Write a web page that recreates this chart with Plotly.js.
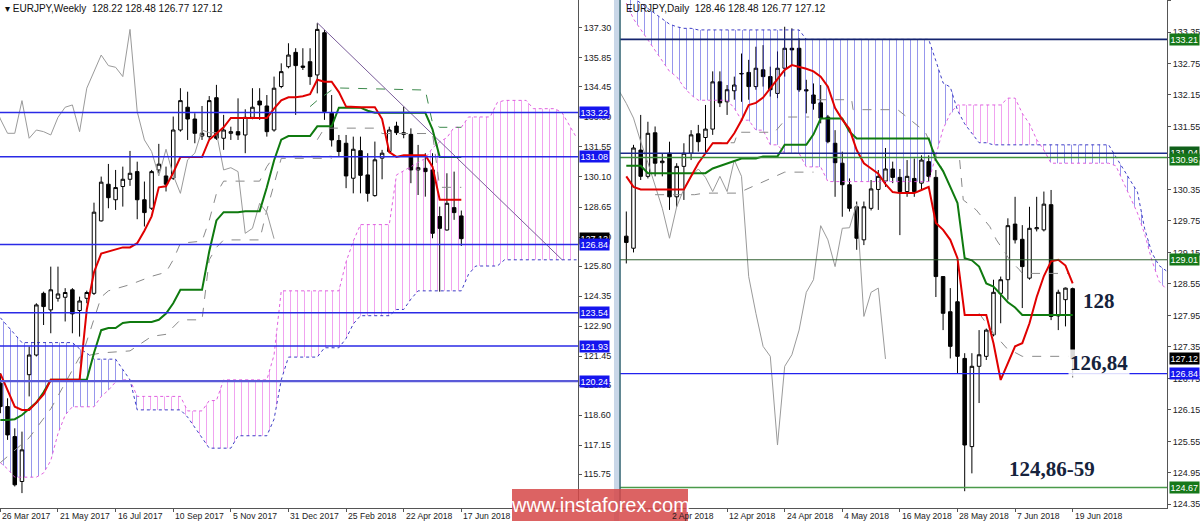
<!DOCTYPE html>
<html><head><meta charset="utf-8">
<script src="https://cdn.plot.ly/plotly-3.0.1.min.js"></script>
<style>html,body{margin:0;padding:0;background:#fff}#chart{width:1200px;height:521px}</style>
</head><body><div id="chart"></div>
<script>
// ---------- WEEKLY (EURJPY, W1) : index 0 = 26 Mar 2017 ... 64 = 17 Jun 2018 ----------
const wOpen  = [120.14,119.01,117.56,115.39,120.55,121.50,124.48,123.68,124.24,124.29,124.65,123.65,124.24,124.48,127.98,129.75,129.00,129.64,129.99,130.36,129.00,128.59,130.44,130.15,130.04,132.37,133.47,132.90,132.08,132.05,133.93,131.97,132.21,132.29,132.13,132.98,133.77,133.53,132.37,134.47,135.43,136.12,135.46,135.67,135.03,137.07,133.18,131.86,131.73,130.04,131.37,130.20,129.20,131.01,131.33,132.56,132.16,132.16,130.44,130.52,130.44,128.19,127.54,128.62,128.22];
const wHigh  = [120.62,119.41,117.96,117.80,121.91,124.00,124.56,125.77,125.77,124.73,124.73,124.32,124.61,128.86,130.12,130.73,130.44,130.60,131.36,130.84,129.88,130.44,131.70,130.60,133.02,134.39,134.22,133.18,133.53,134.01,134.55,133.10,132.53,133.90,133.37,134.39,134.39,134.06,134.95,135.59,136.56,136.32,136.32,136.32,137.53,137.20,134.06,132.13,132.13,132.05,132.05,131.25,131.81,131.41,132.53,132.77,133.50,132.45,131.65,131.25,131.25,128.67,130.28,130.36,128.48];
const wLow   = [118.69,117.40,115.15,114.83,119.50,121.43,122.95,122.55,124.08,123.12,122.55,122.39,124.00,124.40,127.95,128.59,128.51,128.67,129.67,128.06,127.71,128.51,130.28,129.40,129.96,132.29,131.89,131.73,131.89,131.92,131.89,131.41,131.89,131.89,131.25,132.89,132.86,132.05,132.29,134.39,135.35,133.10,135.27,134.55,134.14,132.86,131.57,131.09,129.56,129.31,129.31,128.91,129.15,129.99,131.25,132.13,131.97,129.80,129.23,129.15,127.14,124.56,127.51,128.03,126.77];
const wClose = [119.01,117.64,115.23,116.92,121.50,123.92,123.84,124.65,124.45,124.52,123.49,124.11,124.52,128.40,129.85,129.10,129.59,129.99,130.28,129.00,128.38,130.36,130.72,129.75,132.37,133.79,132.90,132.21,132.21,133.79,131.97,132.37,132.29,132.13,132.98,133.47,133.58,132.29,134.39,135.19,135.99,135.48,135.40,134.95,137.23,133.26,131.89,131.33,130.15,131.44,130.18,129.31,130.93,131.25,132.37,132.24,132.24,130.44,130.55,130.36,127.38,127.62,128.83,128.38,127.12];
const wTenkan = [120.6,119.8,119.0,118.85,118.85,119.2,119.6,120.3,120.3,120.3,120.3,120.3,123.7,125.5,126.4,126.5,126.6,126.7,126.7,126.9,127.5,128.2,129.6,129.65,130.3,131.06,131.06,131.06,131.06,131.9,132.2,132.5,132.95,132.95,132.95,132.95,132.95,132.95,133.4,133.8,133.95,133.95,134.0,134.1,134.8,134.7,134.7,134.2,133.5,133.47,133.47,133.47,133.47,132.9,131.3,131.07,131.15,131.15,131.15,131.15,130.6,129.0,129.0,129.0,129.0];
const wKijun  = [118.36,118.36,118.4,118.6,118.9,119.2,119.7,120.3,120.3,120.3,120.3,120.3,120.3,121.6,122.7,122.8,122.8,123.05,123.1,123.1,123.1,123.1,123.2,123.5,124.0,124.65,124.65,124.65,124.65,126.5,128.0,128.4,128.4,128.4,128.45,128.45,128.45,129.6,130.9,131.9,132.08,132.08,132.08,132.08,132.55,132.55,132.55,133.45,133.45,133.45,133.45,133.3,133.2,133.2,133.2,133.2,133.2,133.2,133.2,133.2,132.4,131.07,131.07,131.07,131.07];
// Senkou spans, index 0..80 (cloud projected ahead)
const wSpanA = [116.3,116.0,115.6,115.6,115.6,115.6,115.8,116.4,117.7,118.6,119.0,119.0,119.0,119.0,119.5,119.8,120.2,120.3,120.3,119.5,119.5,119.5,119.5,119.5,119.5,119.5,118.8,118.8,118.8,119.3,119.3,120.3,120.3,120.3,120.3,120.3,120.3,120.3,121.5,124.6,124.6,124.6,124.6,124.6,124.6,124.6,124.6,124.6,126.0,127.0,127.8,127.8,127.8,127.8,127.8,130.2,130.4,130.6,130.8,131.0,131.5,131.8,132.0,132.5,132.5,133.0,133.0,133.0,133.0,133.7,133.8,133.8,133.8,133.8,133.4,133.4,133.4,133.4,133.2,132.6,132.0];
const wSpanB = [123.3,122.9,122.5,122.1,122.1,122.1,122.1,122.1,122.1,122.1,122.1,121.8,121.6,121.3,121.3,121.3,121.3,120.8,120.3,118.85,118.85,118.85,118.85,118.85,118.85,118.85,118.5,118.0,117.5,117.0,117.0,117.0,117.0,117.6,117.6,117.6,117.6,117.6,118.4,120.3,121.4,121.4,121.4,121.4,121.4,121.85,121.85,121.85,122.3,123.0,123.4,123.4,123.4,123.4,123.4,123.7,123.7,124.2,124.6,124.6,124.6,124.6,124.6,124.6,124.6,125.4,125.8,125.8,125.8,125.8,126.1,126.1,126.1,126.1,126.1,126.1,126.1,126.1,126.1,126.1,126.1];
const wDash1 = {x:[11,14,15,18,21,23,24,25,28,29,30,31,36,37,38,46], y:[121.1,124.3,124.6,124.9,125.3,125.5,126.1,126.9,127.0,128.0,129.3,129.9,129.9,130.6,131.1,131.1]};
const wDash2 = {x:[43,44,46,47,59,60,61,64], y:[133.5,133.8,134.3,134.4,134.3,132.7,132.5,132.5]};
const wDash3 = {x:[0,4,7,11,14,18,21,23,25,28,29,30,31,36,37,39,46], y:[116.3,117.5,118.9,121.4,121.6,121.7,122.4,122.5,123.2,123.2,126.1,126.7,127.06,127.06,128.5,131.0,131.0]};
const wDash4 = {x:[44,45,52,53,60,61,64], y:[131.9,132.46,132.46,132.2,132.2,129.6,129.6]};
const wTrend = {x:[44,78], y:[137.55,126.1]};
const wLevels = [133.22,131.08,126.84,123.54,121.93,120.24];
const wYTicks = [137.30,135.85,134.45,133.00,131.55,130.10,128.65,127.20,125.80,124.35,122.90,121.45,120.05,118.60,117.15,115.75];
const wTickIdx = [0,8,16,24,32,40,48,56,64];
const wTickText = ['26 Mar 2017','21 May 2017','16 Jul 2017','10 Sep 2017','5 Nov 2017','31 Dec 2017','25 Feb 2018','22 Apr 2018','17 Jun 2018'];

// ---------- DAILY (EURJPY, D1) : index 0 = 23 Mar 2018 ... 62 = 19 Jun 2018 ----------
const dOpen  = [129.46,129.23,131.10,130.60,131.43,130.86,131.04,130.21,130.79,131.04,131.41,131.34,131.50,132.40,132.02,132.23,132.55,132.58,132.31,132.63,132.50,132.18,132.66,133.04,133.04,132.25,132.15,132.00,131.73,131.23,130.85,130.44,130.02,129.39,129.99,130.35,130.51,130.74,130.58,130.31,130.56,130.47,130.88,130.58,128.69,128.02,128.21,127.13,125.45,126.98,127.17,127.58,128.37,128.63,129.69,129.40,128.66,129.60,129.58,130.06,127.94,128.25,128.46];
const dHigh  = [129.93,131.20,131.77,131.64,131.55,131.04,131.26,130.85,131.23,131.48,131.58,131.96,132.60,132.60,132.34,132.50,132.94,132.82,133.07,133.10,132.69,132.98,133.45,133.42,133.23,132.44,132.37,132.34,131.77,131.48,131.07,130.56,130.12,130.12,130.53,130.72,131.14,130.88,130.74,130.91,130.94,131.00,131.00,130.72,128.69,128.47,129.04,127.23,127.23,127.67,127.70,128.63,128.69,129.80,130.21,129.67,130.02,130.21,130.31,130.34,128.44,128.48,128.48];
const dLow   = [128.94,129.15,130.53,130.56,130.60,130.60,129.96,130.02,130.15,130.91,131.07,131.04,131.39,131.92,131.77,132.06,132.02,132.06,132.25,132.31,132.12,132.09,132.50,132.72,132.21,131.80,131.87,131.61,131.23,130.21,129.83,129.93,129.20,129.29,129.95,129.96,130.40,130.47,129.48,130.21,130.21,130.34,130.50,128.30,127.67,127.13,126.85,124.60,124.94,126.28,127.10,127.55,127.80,128.25,129.32,128.09,128.63,129.55,129.55,127.86,127.67,127.74,126.77];
const dClose = [129.34,131.14,130.60,131.42,130.85,130.89,130.21,130.79,131.04,131.39,131.26,131.50,132.40,132.00,132.25,132.34,132.56,132.31,132.66,132.50,132.25,132.66,133.04,133.01,132.25,132.23,131.99,131.71,131.26,130.86,130.44,129.99,129.42,130.02,130.36,130.60,130.74,130.58,130.31,130.60,130.31,130.91,130.60,128.69,127.99,127.36,127.17,125.48,126.98,127.20,127.67,128.39,128.63,129.66,129.39,128.88,129.61,129.62,130.07,127.93,128.39,128.47,127.12];
const dTenkan = [130.6,130.4,130.35,130.35,130.35,130.35,130.35,130.35,130.35,130.6,130.85,131.04,131.23,131.23,131.23,131.42,131.67,131.96,132.0,132.1,132.28,132.44,132.63,132.72,132.69,132.65,132.6,132.5,132.31,131.9,131.68,131.5,131.1,130.85,130.75,130.65,130.45,130.3,130.28,130.28,130.28,130.34,130.40,129.71,129.58,129.39,129.04,127.96,127.96,127.96,127.96,127.42,126.72,127.04,127.36,127.42,127.8,128.3,128.7,128.98,129.01,128.9,128.56];
const dKijun  = [130.8,130.8,130.8,130.66,130.66,130.66,130.66,130.66,130.66,130.66,130.66,130.66,130.75,130.8,130.85,130.9,130.94,130.94,130.94,130.98,130.98,130.98,131.2,131.2,131.2,131.2,131.4,131.7,131.7,131.7,131.7,131.45,131.32,131.32,131.32,131.32,131.32,131.32,131.32,131.32,131.32,131.32,131.32,130.91,130.7,130.4,130.09,129.04,129.0,128.88,128.56,128.5,128.34,128.2,128.1,127.96,127.96,127.96,127.96,127.96,127.96,127.96,127.96];
const dSpanA = [133.9,133.6,133.4,133.2,133.0,132.8,132.6,132.5,132.3,132.15,132.05,132.05,132.05,132.05,132.05,131.9,131.67,131.67,131.48,131.48,131.2,131.2,131.04,131.04,131.04,130.78,130.78,130.78,130.5,130.5,130.5,130.5,130.5,130.5,130.5,130.5,130.5,130.5,130.5,130.5,130.5,130.5,130.5,131.0,131.5,131.8,131.96,131.96,131.96,131.96,131.96,131.96,131.96,132.09,132.09,131.8,131.6,131.3,131.1,130.85,130.85,130.85,130.85,130.85,130.85,130.85,130.85,130.85,130.8,130.5,130.2,129.9,129.5,129.0,128.6,128.45];
const dSpanB = [134.2,134.0,133.9,133.8,133.7,133.6,133.5,133.45,133.42,133.42,133.39,133.39,133.39,133.39,133.39,133.39,133.39,133.39,133.39,133.39,133.39,133.39,133.39,133.39,133.39,133.21,133.21,133.21,133.21,133.21,133.21,133.21,133.21,133.21,133.21,133.21,133.21,133.21,133.21,133.21,133.21,133.21,133.21,132.8,132.38,132.3,131.86,131.6,131.43,131.24,131.24,131.2,131.2,131.2,131.2,131.2,131.2,131.2,131.2,131.2,131.2,131.2,131.2,131.2,131.2,131.2,131.2,131.2,130.97,130.75,130.53,130.3,129.6,129.14,128.9,128.8];
const dDashP = {x:[46.3,46.8,48.6,50.5,51.4,53.3,54.6,55,61.4], y:[130.91,130.15,129.96,129.64,129.39,129.0,128.82,128.75,128.75]};
const dDashQ = {x:[49,51,52.8,54.6,55,61.4], y:[127.99,127.61,127.33,127.2,127.17,127.17]};
const dDashR = {x:[12,15,15.5,20.6,22.4,25.4], y:[131.24,131.24,131.44,131.44,131.73,131.73]};
const dDashS = {x:[4,9.5,10.8,15.5,22,26], y:[130.25,130.25,130.28,130.28,130.68,130.68]};
const dDashT = {x:[26.5,31.3,31.5,37.7,41.5,43,45.8], y:[132.06,132.06,131.87,131.87,131.45,131.0,130.15]};
const dLevels = [{v:133.21,c:'#14246e',w:1.6},{v:131.04,c:'#1c2a8c',w:1.6},{v:130.96,c:'#3b8f3b',w:1.6},{v:129.01,c:'#2f5f2f',w:1},{v:126.84,c:'#2222ee',w:1.2},{v:124.67,c:'#4a9a4a',w:1.4}];
const dYTicks = [133.95,133.35,132.75,132.15,131.55,130.95,130.35,129.75,129.15,128.55,127.95,127.35,126.75,126.15,125.55,124.95,124.35];
const dTickIdx = [-2,6,14,22,30,38,46,54,62];
const dTickText = ['22 Mar 2018','2 Apr 2018','12 Apr 2018','24 Apr 2018','4 May 2018','16 May 2018','28 May 2018','7 Jun 2018','19 Jun 2018'];

// ---------- build ----------
const BLUE = 'rgba(30,30,215,0.55)', MAG = 'rgba(225,70,225,0.6)';
const idx = a => a.map((_, i) => i);
function cloud(A, B, xa, ya) {
  const out = []; const n = A.length;
  const sg = i => (B[i] >= A[i] ? 1 : -1);
  let start = 0, s = sg(0);
  for (let i = 1; i <= n; i++) {
    if (i === n || sg(i) !== s) {
      const end = Math.min(i, n - 1);
      const xs = [], up = [], lo = [];
      for (let k = start; k <= end; k++) { xs.push(k); up.push(Math.max(A[k], B[k])); lo.push(Math.min(A[k], B[k])); }
      out.push({x: xs, y: lo, mode: 'lines', line: {width: 0}, xaxis: xa, yaxis: ya, hoverinfo: 'skip'});
      out.push({x: xs, y: up, mode: 'lines', line: {width: 0}, fill: 'tonexty', fillcolor: 'rgba(0,0,0,0)',
        fillpattern: {shape: '|', fgcolor: s > 0 ? BLUE : MAG, bgcolor: 'rgba(0,0,0,0)', size: 7, solidity: 0.12},
        xaxis: xa, yaxis: ya, hoverinfo: 'skip'});
      start = i; if (i < n) s = sg(i);
    }
  }
  return out;
}
function line(x, y, xa, ya, color, width, dash) {
  return {x, y, mode: 'lines', line: {color, width, dash: dash || 'solid'}, xaxis: xa, yaxis: ya, hoverinfo: 'skip'};
}
function candles(o, h, l, c, xa, ya) {
  return {type: 'candlestick', x: idx(o), open: o, high: h, low: l, close: c, xaxis: xa, yaxis: ya,
    increasing: {line: {color: '#000', width: 1}, fillcolor: '#fff'},
    decreasing: {line: {color: '#000', width: 1}, fillcolor: '#000'},
    whiskerwidth: 0, hoverinfo: 'skip'};
}
const traces = [];
// weekly
traces.push(...cloud(wSpanA, wSpanB, 'x', 'y'));
traces.push(line(idx(wSpanA), wSpanA, 'x', 'y', 'rgba(220,80,220,0.9)', 1, 'dot'));
traces.push(line(idx(wSpanB), wSpanB, 'x', 'y', 'rgba(40,40,190,0.9)', 1, 'dot'));
traces.push(line(wDash1.x, wDash1.y, 'x', 'y', '#8a8a8a', 1, 'dash'));
traces.push(line(wDash2.x, wDash2.y, 'x', 'y', '#3d8a4d', 1, 'dash'));
traces.push(line(wDash3.x, wDash3.y, 'x', 'y', '#8a8a8a', 1, 'dash'));
traces.push(line(wDash4.x, wDash4.y, 'x', 'y', '#8a8a8a', 1, 'dash'));
traces.push(line(wClose.map((_, i) => i - 26), wClose, 'x', 'y', '#9a9a9a', 1));
traces.push(line(wTrend.x, wTrend.y, 'x', 'y', '#7a5c9a', 1));
traces.push(line(idx(wKijun), wKijun, 'x', 'y', '#0f7a0f', 2));
traces.push(line(idx(wTenkan), wTenkan, 'x', 'y', '#e00000', 2));
traces.push(candles(wOpen, wHigh, wLow, wClose, 'x', 'y'));
// daily
traces.push(...cloud(dSpanA, dSpanB, 'x2', 'y2'));
traces.push(line(idx(dSpanA), dSpanA, 'x2', 'y2', 'rgba(220,80,220,0.9)', 1, 'dot'));
traces.push(line(idx(dSpanB), dSpanB, 'x2', 'y2', 'rgba(40,40,190,0.9)', 1, 'dot'));
[dDashP, dDashQ, dDashR, dDashS, dDashT].forEach(d => traces.push(line(d.x, d.y, 'x2', 'y2', '#8a8a8a', 1, 'dash')));
traces.push(line(dClose.map((_, i) => i - 26), dClose, 'x2', 'y2', '#9a9a9a', 1));
traces.push(line(idx(dKijun), dKijun, 'x2', 'y2', '#0f7a0f', 2));
traces.push(line(idx(dTenkan), dTenkan, 'x2', 'y2', '#e00000', 2));
traces.push(candles(dOpen, dHigh, dLow, dClose, 'x2', 'y2'));

const tickFont = {family: 'Liberation Sans, Arial, sans-serif', size: 9, color: '#222'};
const xFont = {family: 'Liberation Sans, Arial, sans-serif', size: 8.6, color: '#222'};
const baseX = {showgrid: false, zeroline: false, showline: true, linecolor: '#555', linewidth: 1, ticks: 'outside', ticklen: 3, tickcolor: '#555',
  tickmode: 'array', showticklabels: false, rangeslider: {visible: false}, fixedrange: true};
const baseY = {showgrid: false, zeroline: false, showline: true, linecolor: '#555', linewidth: 1, ticks: 'outside', ticklen: 3, tickcolor: '#555',
  side: 'right', tickmode: 'array', tickformat: '.2f', tickfont: tickFont, fixedrange: true};
const yBottom = 13 / 521;

const shapes = [];
wLevels.forEach((v, k) => shapes.push({type: 'line', xref: 'x domain', yref: 'y', x0: 0, x1: 1, y0: v, y1: v,
  line: {color: k === 5 ? '#5a5ad8' : '#2a2ae6', width: k === 5 ? 2.2 : 1.5}}));
dLevels.forEach(L => shapes.push({type: 'line', xref: 'x2 domain', yref: 'y2', x0: 0, x1: 1, y0: L.v, y1: L.v, line: {color: L.c, width: L.w}}));

const ann = [];
// date labels, drawn to the right of their tick as on the source platform
wTickIdx.forEach((t, k) => ann.push({xref: 'x', x: t, xanchor: 'left', yref: 'paper', y: 5.5 / 521, yanchor: 'middle',
  text: wTickText[k], showarrow: false, font: xFont, borderpad: 0, xshift: 1}));
dTickIdx.forEach((t, k) => ann.push({xref: 'x2', x: t, xanchor: 'left', yref: 'paper', y: 5.5 / 521, yanchor: 'middle',
  text: dTickText[k], showarrow: false, font: xFont, borderpad: 0, xshift: 1}));

// panel separator (also hides the start of the clipped first daily date label)
shapes.push({type: 'rect', xref: 'paper', yref: 'paper', x0: 609 / 1200, x1: 620 / 1200, y0: 0, y1: 12 / 521, fillcolor: '#ffffff', line: {width: 0}, layer: 'above'});
shapes.push({type: 'rect', xref: 'paper', yref: 'paper', x0: 614 / 1200, x1: 619 / 1200, y0: 0, y1: 1, fillcolor: '#c9d7e8', line: {width: 0}, layer: 'above'});
shapes.push({type: 'line', xref: 'paper', yref: 'paper', x0: 620 / 1200, x1: 620 / 1200, y0: yBottom, y1: 1, line: {color: '#2d5f6e', width: 1.5}, layer: 'above'});
shapes.push({type: 'rect', xref: 'paper', yref: 'paper', x0: 512 / 1200, x1: 688 / 1200, y0: 0, y1: 32 / 521, fillcolor: 'rgba(214,72,72,0.85)', line: {width: 0}, layer: 'above'});

function plabel(v, text, bg, yref, xpx) {
  ann.push({xref: 'paper', x: xpx / 1200, xanchor: 'left', yref, y: v, yanchor: 'middle', text, showarrow: false,
    bgcolor: bg, borderpad: 0.5, font: {family: 'Liberation Sans, Arial, sans-serif', size: 9, color: '#fff'}});
}
plabel(133.22, '133.22', '#1515ee', 'y', 579);
plabel(131.08, '131.08', '#1515ee', 'y', 579);
plabel(127.12, '127.12', '#000', 'y', 579);
plabel(126.84, '126.84', '#1515ee', 'y', 579);
plabel(123.54, '123.54', '#1515ee', 'y', 579);
plabel(121.93, '121.93', '#1515ee', 'y', 579);
plabel(120.24, '120.24', '#1515ee', 'y', 579);
plabel(133.21, '133.21', '#16781a', 'y2', 1169);
plabel(131.06, '131.04', '#10601a', 'y2', 1169);
plabel(130.92, '130.96', '#16781a', 'y2', 1169);
plabel(129.01, '129.01', '#16781a', 'y2', 1169);
plabel(127.12, '127.12', '#000', 'y2', 1169);
plabel(126.84, '126.84', '#1515ee', 'y2', 1169);
plabel(124.67, '124.67', '#16781a', 'y2', 1169);
const titleFont = {family: 'Liberation Sans, Arial, sans-serif', size: 10, color: '#111'};
ann.push({xref: 'paper', yref: 'paper', x: 3 / 1200, y: 1 - 1 / 521, xanchor: 'left', yanchor: 'top', showarrow: false,
  text: '▾ EURJPY,Weekly  128.22 128.48 126.77 127.12', font: titleFont});
ann.push({xref: 'paper', yref: 'paper', x: 624 / 1200, y: 1 - 1 / 521, xanchor: 'left', yanchor: 'top', showarrow: false,
  text: 'EURJPY,Daily  128.46 128.48 126.77 127.12', font: titleFont});
const bigFont = {family: 'Liberation Serif, Times New Roman, serif', size: 21, color: '#16233c'};
ann.push({xref: 'paper', yref: 'y2', x: 1117 / 1200, y: 128.22, text: '<b>128</b>', showarrow: false, font: bigFont, bgcolor: 'rgba(255,255,255,0.85)'});
ann.push({xref: 'paper', yref: 'y2', x: 1130 / 1200, y: 127.04, text: '<b>126,84</b>', showarrow: false, font: bigFont, bgcolor: 'rgba(255,255,255,0.85)'});
ann.push({xref: 'paper', yref: 'y2', x: 1097 / 1200, y: 125.02, text: '<b>124,86-59</b>', showarrow: false, font: bigFont, bgcolor: 'rgba(255,255,255,0.85)'});
ann.push({xref: 'paper', yref: 'paper', x: 600 / 1200, y: 16 / 521, xanchor: 'center', yanchor: 'middle', showarrow: false,
  text: 'www.instaforex.com', font: {family: 'Liberation Sans, Arial, sans-serif', size: 20, color: '#fff'}});

const layout = {
  width: 1200, height: 521, margin: {l: 0, r: 0, t: 0, b: 0}, paper_bgcolor: '#fff', plot_bgcolor: '#fff',
  showlegend: false, hovermode: false,
  xaxis: Object.assign({}, baseX, {domain: [0, 578 / 1200], range: [-0.05, 80.2], anchor: 'y', tickvals: wTickIdx}),
  yaxis: Object.assign({}, baseY, {domain: [yBottom, 1], range: [114.11, 138.65], anchor: 'x', tickvals: wYTicks}),
  xaxis2: Object.assign({}, baseX, {domain: [620 / 1200, 1167 / 1200], range: [-0.875, 75.1], anchor: 'y2', tickvals: dTickIdx}),
  yaxis2: Object.assign({}, baseY, {domain: [yBottom, 1], range: [124.28, 133.96], anchor: 'x2', tickvals: dYTicks}),
  shapes, annotations: ann
};
Plotly.newPlot('chart', traces, layout, {staticPlot: true, displayModeBar: false});
</script></body></html>
